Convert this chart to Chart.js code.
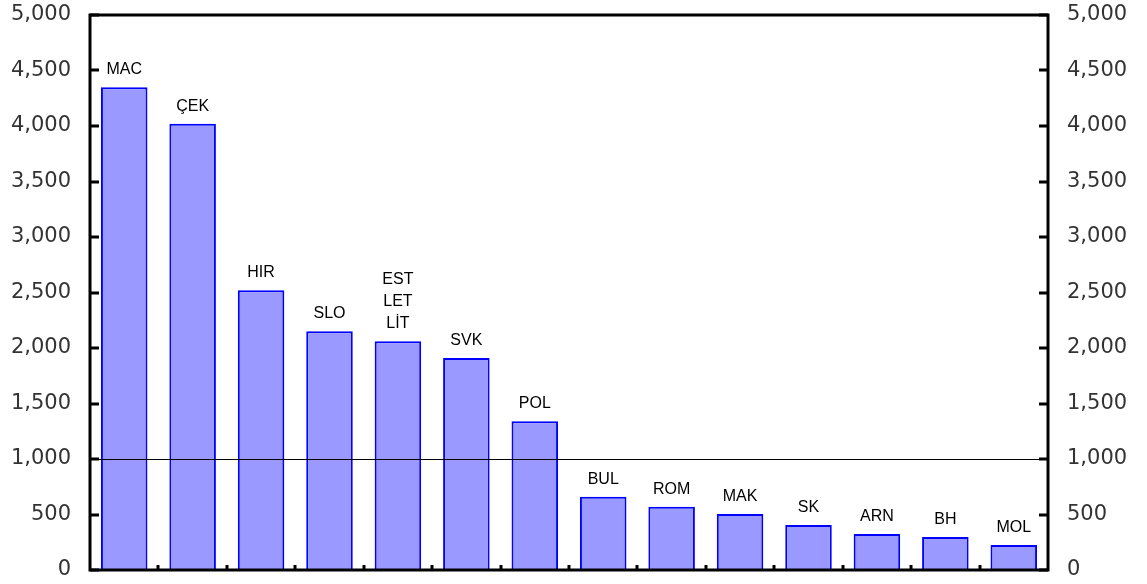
<!DOCTYPE html>
<html>
<head>
<meta charset="utf-8">
<script src="https://cdn.jsdelivr.net/npm/chart.js@4/dist/chart.umd.min.js"></script>
<style>
html,body{margin:0;padding:0;background:#fff;}
#wrap{width:1147px;height:584px;position:relative;}
</style>
</head>
<body>
<div id="wrap"><canvas id="c" width="1147" height="584"></canvas></div>
<script>
const categories = ["MAC","ÇEK","HIR","SLO","EST/LET/LİT","SVK","POL","BUL","ROM","MAK","SK","ARN","BH","MOL"];
const barLabels = [["MAC"],["ÇEK"],["HIR"],["SLO"],["EST","LET","LİT"],["SVK"],["POL"],["BUL"],["ROM"],["MAK"],["SK"],["ARN"],["BH"],["MOL"]];
const values = [4350, 4020, 2520, 2150, 2060, 1910, 1340, 660, 570, 505, 405, 325, 298, 225];
const yMin = 0, yMax = 5000, yStep = 500;
const referenceLine = 1000;

const fmt = v => Number(v).toLocaleString('en-US');

const decor = {
  id: 'decor',
  afterDatasetsDraw(chart) {
    const ctx = chart.ctx, a = chart.chartArea;
    const y = chart.scales.y, x = chart.scales.x;
    ctx.save();
    const ry = Math.round(y.getPixelForValue(referenceLine)) + 0.5;
    ctx.strokeStyle = '#000'; ctx.lineWidth = 1;
    ctx.beginPath(); ctx.moveTo(a.left, ry); ctx.lineTo(a.right, ry); ctx.stroke();
    ctx.lineWidth = 3;
    ctx.strokeRect(a.left, a.top, a.right - a.left, a.bottom - a.top);
    ctx.fillStyle = '#000';
    for (let v = yMin; v <= yMax; v += yStep) {
      const py = Math.round(y.getPixelForValue(v));
      ctx.fillRect(a.left, py - 1.5, 9, 3);
      ctx.fillRect(a.right - 9, py - 1.5, 9, 3);
    }
    for (let i = 1; i < categories.length; i++) {
      const px = (x.getPixelForValue(i - 1) + x.getPixelForValue(i)) / 2;
      ctx.fillRect(Math.round(px) - 1.5, a.bottom - 5, 3, 4);
    }
    const meta = chart.getDatasetMeta(0);
    ctx.font = '16px "Liberation Sans", Arial, sans-serif';
    ctx.fillStyle = '#000';
    ctx.textAlign = 'center';
    ctx.textBaseline = 'alphabetic';
    meta.data.forEach((bar, i) => {
      const lines = barLabels[i];
      const lh = 22;
      const base = bar.y - 13;
      for (let k = 0; k < lines.length; k++) {
        ctx.fillText(lines[k], bar.x, base - (lines.length - 1 - k) * lh);
      }
    });
    ctx.restore();
  }
};

const yTicks = {
  stepSize: yStep,
  padding: 19,
  color: '#333',
  font: { family: '"DejaVu Sans", sans-serif', size: 21 },
  callback: v => fmt(v)
};

new Chart(document.getElementById('c'), {
  type: 'bar',
  data: {
    labels: categories,
    datasets: [{
      data: values,
      backgroundColor: '#9999FF',
      borderColor: '#0000FF',
      borderWidth: 2,
      borderSkipped: 'bottom',
      barPercentage: 0.68,
      categoryPercentage: 1.0
    }]
  },
  options: {
    responsive: false,
    animation: false,
    devicePixelRatio: 1,
    layout: { padding: { top: 15, left: 0, right: 0, bottom: 0 } },
    plugins: { legend: { display: false }, tooltip: { enabled: false } },
    scales: {
      x: {
        offset: true,
        grid: { display: false, drawTicks: false },
        border: { display: false },
        ticks: { display: false },
        afterFit(s) { s.height = 14; s.paddingLeft = 0; s.paddingRight = 0; }
      },
      y: {
        position: 'left',
        min: yMin, max: yMax,
        grid: { display: false, drawTicks: false },
        border: { display: false },
        ticks: yTicks,
        afterFit(s) { s.width = 90; s.paddingTop = 0; s.paddingBottom = 0; }
      },
      y2: {
        position: 'right',
        min: yMin, max: yMax,
        grid: { display: false, drawTicks: false },
        border: { display: false },
        ticks: yTicks,
        afterFit(s) { s.width = 99; s.paddingTop = 0; s.paddingBottom = 0; }
      }
    }
  },
  plugins: [decor]
});
</script>
</body>
</html>
